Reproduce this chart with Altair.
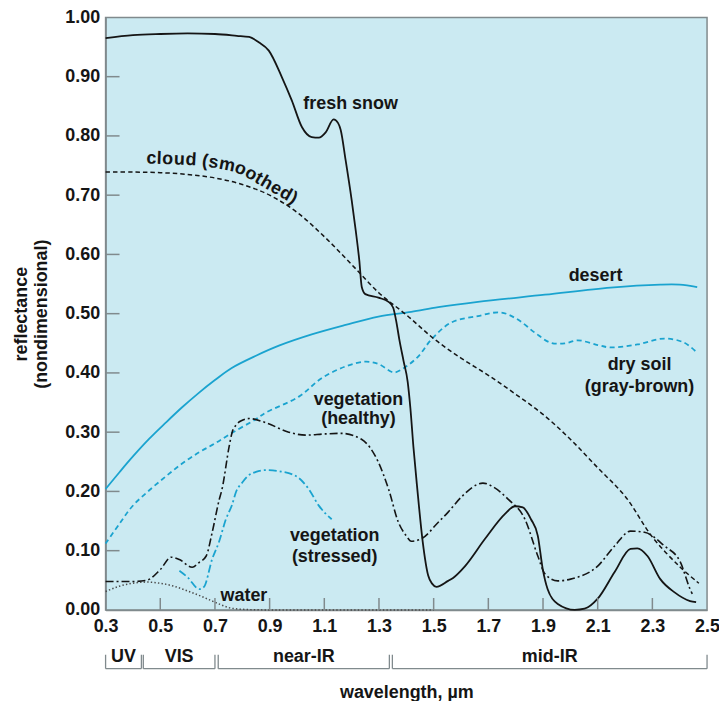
import math
import altair as alt
import pandas as pd

W, H = 604, 595
FONT = "Liberation Sans"
CYAN = "#1aa3cf"
BLACK = "#151515"
GRAY = "#808a8d"

# ---------------- data ----------------
snow_w = [0.30, 0.40, 0.50, 0.60, 0.70, 0.78, 0.825, 0.86, 0.897, 0.945, 0.981, 1.018, 1.054, 1.08,
          1.105, 1.134, 1.150, 1.160, 1.178, 1.200, 1.215, 1.228, 1.237, 1.250, 1.298, 1.335, 1.352,
          1.362, 1.375, 1.390, 1.405, 1.415, 1.426, 1.440, 1.460, 1.480, 1.495, 1.510, 1.553, 1.571,
          1.615, 1.688, 1.761, 1.797, 1.826, 1.856, 1.881, 1.899, 1.917, 1.954, 2.016, 2.052, 2.100,
          2.162, 2.220, 2.245, 2.282, 2.329, 2.380, 2.438, 2.460]
snow_r = [0.965, 0.970, 0.972, 0.973, 0.972, 0.969, 0.967, 0.958, 0.944, 0.899, 0.860, 0.815, 0.798, 0.797,
          0.806, 0.828, 0.822, 0.810, 0.759, 0.692, 0.640, 0.590, 0.545, 0.533, 0.527, 0.520, 0.510,
          0.490, 0.455, 0.420, 0.385, 0.340, 0.275, 0.205, 0.115, 0.058, 0.044, 0.039, 0.049, 0.054,
          0.074, 0.120, 0.162, 0.175, 0.173, 0.153, 0.125, 0.069, 0.035, 0.010, 0.000, 0.002, 0.019,
          0.064, 0.103, 0.104, 0.091, 0.052, 0.030, 0.015, 0.013]

cloud_w = [0.30, 0.40, 0.50, 0.60, 0.70, 0.80, 0.90, 1.00, 1.10, 1.20, 1.30, 1.40, 1.50, 1.60, 1.70,
           1.80, 1.90, 2.00, 2.10, 2.20, 2.30, 2.40, 2.47]
cloud_r = [0.739, 0.739, 0.738, 0.735, 0.729, 0.718, 0.700, 0.671, 0.630, 0.583, 0.535, 0.498, 0.458,
           0.425, 0.396, 0.364, 0.330, 0.288, 0.240, 0.192, 0.123, 0.073, 0.045]

desert_w = [0.30, 0.35, 0.40, 0.46, 0.52, 0.58, 0.64, 0.70, 0.76, 0.85, 0.934, 1.054, 1.178, 1.298,
            1.418, 1.517, 1.662, 1.907, 2.147, 2.329, 2.40, 2.464]
desert_r = [0.204, 0.232, 0.259, 0.289, 0.316, 0.342, 0.366, 0.388, 0.408, 0.429, 0.446, 0.465, 0.481,
            0.495, 0.503, 0.511, 0.520, 0.532, 0.544, 0.549, 0.549, 0.545]

soil_w = [0.30, 0.35, 0.398, 0.46, 0.522, 0.58, 0.642, 0.70, 0.763, 0.85, 0.886, 1.007, 1.09, 1.178,
          1.25, 1.298, 1.345, 1.36, 1.397, 1.444, 1.491, 1.564, 1.662, 1.746, 1.808, 1.870, 1.928,
          1.98, 2.027, 2.10, 2.147, 2.245, 2.344, 2.417, 2.464]
soil_r = [0.112, 0.145, 0.175, 0.202, 0.226, 0.247, 0.266, 0.281, 0.299, 0.322, 0.333, 0.360, 0.391,
          0.411, 0.419, 0.415, 0.402, 0.401, 0.410, 0.428, 0.456, 0.485, 0.496, 0.502, 0.490, 0.468,
          0.451, 0.450, 0.455, 0.447, 0.443, 0.448, 0.458, 0.451, 0.434]

healthy_w = [0.30, 0.35, 0.40, 0.45, 0.50, 0.54, 0.57, 0.617, 0.642, 0.668, 0.69, 0.715, 0.726, 0.752,
             0.763, 0.777, 0.80, 0.825, 0.886, 0.97, 1.032, 1.10, 1.163, 1.236, 1.298, 1.335, 1.371,
             1.40, 1.418, 1.455, 1.517, 1.553, 1.60, 1.68, 1.72, 1.772, 1.834, 1.881, 1.907, 1.954,
             2.001, 2.100, 2.162, 2.220, 2.271, 2.344, 2.402, 2.438, 2.446]
healthy_r = [0.048, 0.048, 0.048, 0.050, 0.068, 0.089, 0.085, 0.072, 0.080, 0.091, 0.131, 0.185, 0.204,
             0.276, 0.300, 0.312, 0.320, 0.323, 0.316, 0.300, 0.295, 0.297, 0.298, 0.288, 0.249, 0.204,
             0.148, 0.125, 0.116, 0.120, 0.148, 0.165, 0.190, 0.214, 0.207, 0.187, 0.153, 0.091, 0.061,
             0.049, 0.052, 0.074, 0.108, 0.133, 0.131, 0.108, 0.081, 0.035, 0.027]

stressed_w = [0.57, 0.60, 0.643, 0.66, 0.69, 0.715, 0.74, 0.763, 0.777, 0.80, 0.82, 0.85, 0.886, 0.934,
              0.996, 1.043, 1.08, 1.127]
stressed_r = [0.066, 0.055, 0.035, 0.039, 0.086, 0.115, 0.153, 0.178, 0.199, 0.215, 0.226, 0.233, 0.236,
              0.234, 0.226, 0.204, 0.176, 0.153]

water_w = [0.30, 0.35, 0.40, 0.45, 0.50, 0.55, 0.60, 0.65, 0.70, 0.75, 0.80, 0.90, 1.10, 1.30, 1.50]
water_r = [0.031, 0.040, 0.045, 0.047, 0.045, 0.040, 0.032, 0.023, 0.013, 0.004, 0.001, 0.0, 0.0, 0.0, 0.0]

x_labels = [0.3, 0.5, 0.7, 0.9, 1.1, 1.3, 1.5, 1.7, 1.9, 2.1, 2.3, 2.5]
x_inner_ticks = [0.5, 0.7, 0.9, 1.1, 1.3, 1.5, 1.7, 1.9, 2.1, 2.3]
y_labels = [0.0, 0.1, 0.2, 0.3, 0.4, 0.5, 0.6, 0.7, 0.8, 0.9, 1.0]
y_inner_ticks = [0.1, 0.2, 0.3, 0.4, 0.5, 0.6, 0.7, 0.8, 0.9]

bands = ["UV", "VIS", "near-IR", "mid-IR"]
band_start = [0.30, 0.438, 0.712, 1.349]
band_end = [0.431, 0.700, 1.338, 2.50]

# label anchors (data coordinates)
plain_labels = ["fresh snow", "desert", "dry soil", "(gray-brown)", "vegetation", "(healthy)",
                "vegetation", "(stressed)", "water"]
plain_w = [1.196, 2.092, 2.253, 2.253, 1.225, 1.225, 1.138, 1.138, 0.806]
plain_r = [0.854, 0.564, 0.414, 0.377, 0.355, 0.322, 0.125, 0.090, 0.024]

# curved "cloud (smoothed)" label: starts at this anchor and bends down along the curve
cloud_label = "cloud (smoothed)"
cloud_label_start_w = 0.448
cloud_label_start_r = 0.762

# ---------------- chart ----------------
FS = 18
x_scale = alt.Scale(domain=[0.3, 2.5], nice=False, zero=False)
y_scale = alt.Scale(domain=[0.0, 1.0], nice=False, zero=False)

x_axis = alt.Axis(values=x_labels, format=".1f", title="wavelength, \u00b5m", ticks=False, tickSize=0,
                  grid=False, labelPadding=8, titlePadding=48, labelFlush=False)
y_axis = alt.Axis(values=y_labels, format=".2f", title=["reflectance", "(nondimensional)"], ticks=False,
                  tickSize=0, grid=False, labelPadding=6, titlePadding=14, labelFlush=False)


def X(field="wavelength"):
    return alt.X(f"{field}:Q", scale=x_scale, axis=x_axis)


def Y(field="reflectance"):
    return alt.Y(f"{field}:Q", scale=y_scale, axis=y_axis)


def curve(w, r, color, dash=None, width=1.6, interp="monotone"):
    df = pd.DataFrame({"wavelength": w, "reflectance": r})
    kw = dict(color=color, strokeWidth=width, interpolate=interp)
    if dash:
        kw["strokeDash"] = dash
    return alt.Chart(df).mark_line(**kw).encode(x=X(), y=Y())


layers = [
    curve(water_w, water_r, "#4a4a4a", [1.4, 2.2], 1.5),
    curve(desert_w, desert_r, CYAN, None, 1.8, "catmull-rom"),
    curve(soil_w, soil_r, CYAN, [5, 3.5], 1.8, "catmull-rom"),
    curve(stressed_w, stressed_r, CYAN, [8, 3, 2, 3], 1.8),
    curve(healthy_w, healthy_r, BLACK, [8, 3, 2, 3], 1.6),
    curve(cloud_w, cloud_r, BLACK, [4.5, 3], 1.5, "catmull-rom"),
    curve(snow_w, snow_r, BLACK, None, 1.8),
]

# inward ticks
ytick_df = pd.DataFrame({"reflectance": y_inner_ticks})
layers.append(alt.Chart(ytick_df).mark_rule(color=GRAY, strokeWidth=1.5).encode(
    y=Y(), x=alt.value(0), x2=alt.value(14)))
xtick_df = pd.DataFrame({"wavelength": x_inner_ticks})
layers.append(alt.Chart(xtick_df).mark_rule(color=GRAY, strokeWidth=1.5).encode(
    x=X(), y=alt.value(H), y2=alt.value(H - 12)))

# spectral band brackets below the axis
band_df = pd.DataFrame({"band": bands, "wavelength": band_start, "wavelength_end": band_end})
band_df["mid"] = (band_df["wavelength"] + band_df["wavelength_end"]) / 2
layers.append(alt.Chart(band_df).mark_rule(color=GRAY, strokeWidth=1.3).encode(
    x=X(), x2="wavelength_end:Q", y=alt.value(H + 59)))
ends_df = pd.DataFrame({"wavelength": band_start + band_end})
layers.append(alt.Chart(ends_df).mark_rule(color=GRAY, strokeWidth=1.3).encode(
    x=X(), y=alt.value(H + 45), y2=alt.value(H + 59)))
layers.append(alt.Chart(band_df).mark_text(font=FONT, fontSize=FS, fontWeight="bold", color=BLACK,
                                           baseline="middle", align="center").encode(
    x=alt.X("mid:Q", scale=x_scale, axis=x_axis), y=alt.value(H + 47), text="band:N"))

# curve labels
lab_df = pd.DataFrame({"label": plain_labels, "wavelength": plain_w, "reflectance": plain_r})
layers.append(alt.Chart(lab_df).mark_text(font=FONT, fontSize=FS, fontWeight="bold", color=BLACK,
                                          baseline="middle", align="center").encode(
    x=X(), y=Y(), text="label:N"))

# lay the cloud label out letter by letter along a bending baseline
ADV = {"c": .556, "l": .278, "o": .611, "u": .611, "d": .611, " ": .278, "(": .333, "s": .556,
       "m": .889, "h": .611, "e": .556, "t": .333, ")": .333}
px_per_w = W / 2.2
px_per_r = H / 1.0


def bend(s):
    a = 2 + 8 * min(1, max(0, (s - 40) / 30)) + 20 * min(1, max(0, (s - 80) / 25))
    return math.radians(a)


px, py, s = 0.0, 0.0, 0.0
rows = []
for ch in cloud_label:
    a = ADV[ch] * FS * 1.06
    ang = bend(s + a / 2)
    cx = px + math.cos(ang) * a / 2
    cy = py + math.sin(ang) * a / 2
    rows.append({"label": ch,
                 "wavelength": cloud_label_start_w + cx / px_per_w,
                 "reflectance": cloud_label_start_r - cy / px_per_r,
                 "angle": math.degrees(ang)})
    px += math.cos(ang) * a
    py += math.sin(ang) * a
    s += a
cloud_lab_df = pd.DataFrame(rows)
layers.append(alt.Chart(cloud_lab_df).mark_text(font=FONT, fontSize=FS, fontWeight="bold", color=BLACK,
                                                baseline="middle", align="center").encode(
    x=X(), y=Y(), text="label:N", angle=alt.Angle("angle:Q", scale=None)))

chart = alt.layer(*layers).properties(
    width=W, height=H,
    autosize=alt.AutoSizeParams(type="none"),
    padding={"left": 98, "top": 8, "right": 12, "bottom": 90},
).configure_view(
    fill="#cbeaf2", stroke=GRAY, strokeWidth=1.5
).configure_axis(
    domainColor=GRAY, domainWidth=1.5,
    labelFont=FONT, labelFontSize=FS, labelFontWeight="bold", labelColor=BLACK,
    titleFont=FONT, titleFontSize=FS, titleFontWeight="bold", titleColor=BLACK,
)

chart.save("out.html", embed_options={"renderer": "svg", "actions": False})
